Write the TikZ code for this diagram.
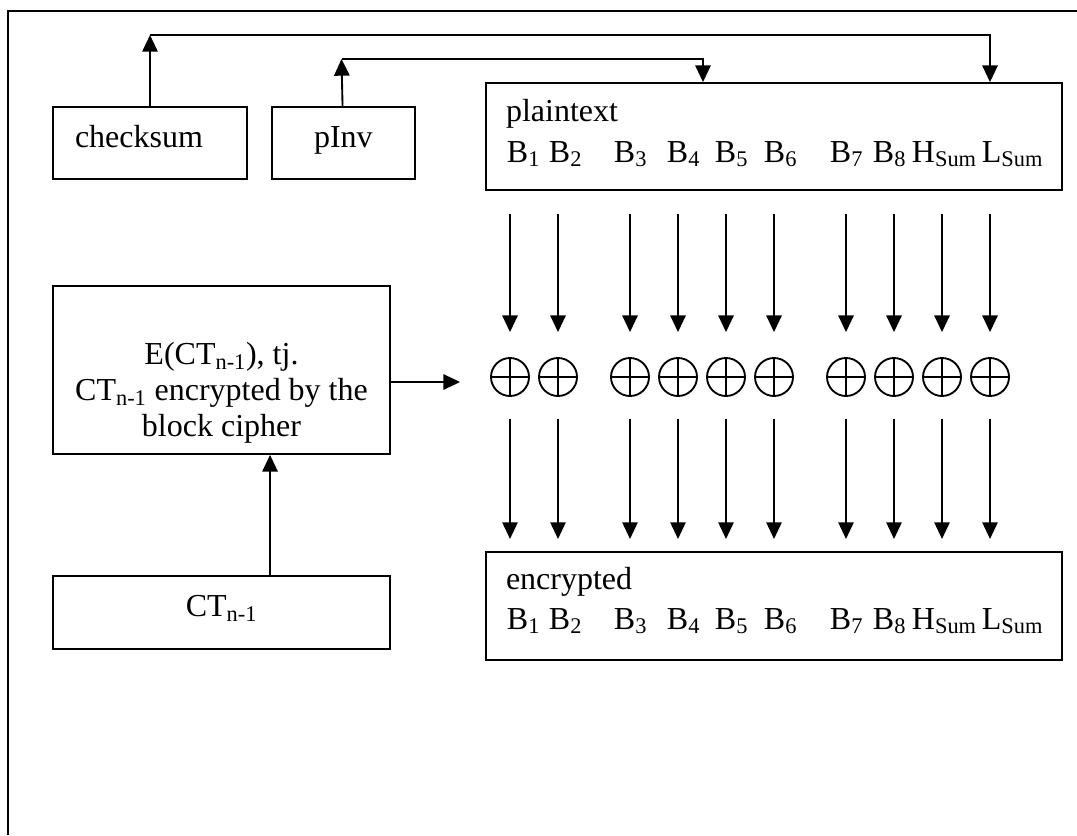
\documentclass[tikz,border=0pt]{standalone}
\usepackage{fontspec}
\setmainfont{Liberation Serif}
\usetikzlibrary{positioning,arrows.meta}

\begin{document}
\begin{tikzpicture}[
    x=0.75pt,y=-0.75pt,
    font=\fontsize{24}{27}\selectfont,
    line width=1.4pt,
    blk_box/.style={
        draw,rectangle,inner sep=0pt,text height=12pt,text depth=6pt,
    },
    xor_sum/.style={
        draw,circle,inner sep=0pt,minimum size=28.5pt,
        path picture={
            \draw (path picture bounding box.north) -- (path picture bounding box.south)
                  (path picture bounding box.west) -- (path picture bounding box.east);
        },
    },
    arrow/.style={
        -{Triangle[length=12.5pt,width=11.5pt]},
    }
]
    \useasboundingbox (0,0) rectangle (1077,835);
    \draw (8,835) -- (8,11) -- (1077,11);

    \node[blk_box,minimum width=145.5pt,minimum height=54pt,text width=112.5pt,align=left] at (150,143) (checksum) {checksum};
    \node[blk_box,minimum width=107.25pt,minimum height=54pt,right=17.25pt of checksum] (pinv) {pInv};

    \node[draw,inner sep=0pt,minimum width=432pt,minimum height=80.25pt] at (774,136.5) (plain) {};
    \node[anchor=base west,inner sep=0pt] at ([xshift=15pt,yshift=-29.25pt]plain.north west) (plain_lbl) {plaintext};
    \node[draw,inner sep=0pt,minimum width=432pt,minimum height=81pt,below=270pt of plain] (enc) {};
    \node[anchor=base west,inner sep=0pt] at ([xshift=15pt,yshift=-29.25pt]enc.north west) (enc_lbl) {encrypted};

    \foreach \tx/\tl [count=\i] in {506/{B\textsubscript{1}},548/{B\textsubscript{2}},613/{B\textsubscript{3}},
        666/{B\textsubscript{4}},714/{B\textsubscript{5}},763/{B\textsubscript{6}},829/{B\textsubscript{7}},
        872/{B\textsubscript{8}},911/{H\textsubscript{Sum}},981/{L\textsubscript{Sum}}}{
        \node[anchor=base west,inner sep=0pt] at (\tx,162) (pb\i) {\tl};
        \node[anchor=base west,inner sep=0pt] at (\tx,629) (eb\i) {\tl};
    }

    \node[draw,inner sep=0pt,minimum width=252.75pt,minimum height=126pt] at (221.5,370) (ebox) {};
    \node[align=center,anchor=north,inner sep=0pt] at ([yshift=-42pt]ebox.north) (ebox_lbl)
        {E(CT\textsubscript{n-1}), tj.\\CT\textsubscript{n-1} encrypted by the\\block cipher};
    \node[blk_box,minimum width=252.75pt,minimum height=54.75pt,below=90pt of ebox] (ctprev) {CT\textsubscript{n-1}};

    % xor column
    \foreach \cx [count=\i] in {510,558,630,678,726,774,846,894,942,990}{
        \node[xor_sum] at (\cx,377) (x\i) {};
        \draw[arrow,shorten <=17.25pt,shorten >=18.75pt] (plain.south -| x\i) -- (x\i);
        \draw[arrow,shorten <=16.5pt,shorten >=9pt] (x\i) -- (enc.north -| x\i);
    }

    \draw[arrow,shorten >=22.5pt] ([yshift=-3.75pt]ebox.east |- x1) -- ([yshift=-3.75pt]x1.west);
    \draw[arrow] ([xshift=36.4pt]ctprev.north) -- ([xshift=36.4pt]ebox.south);

    \coordinate (cs_top) at (150,35);
    \coordinate (pi_top) at (341.5,59);
    \draw[arrow] (checksum) -- (cs_top);
    \draw[arrow] (cs_top) -| (plain.north -| x10);
    \draw[arrow] (pinv) -- (pi_top);
    \draw[arrow] (pi_top) -| ([xshift=-53.25pt]plain.north);

\end{tikzpicture}
\end{document}
